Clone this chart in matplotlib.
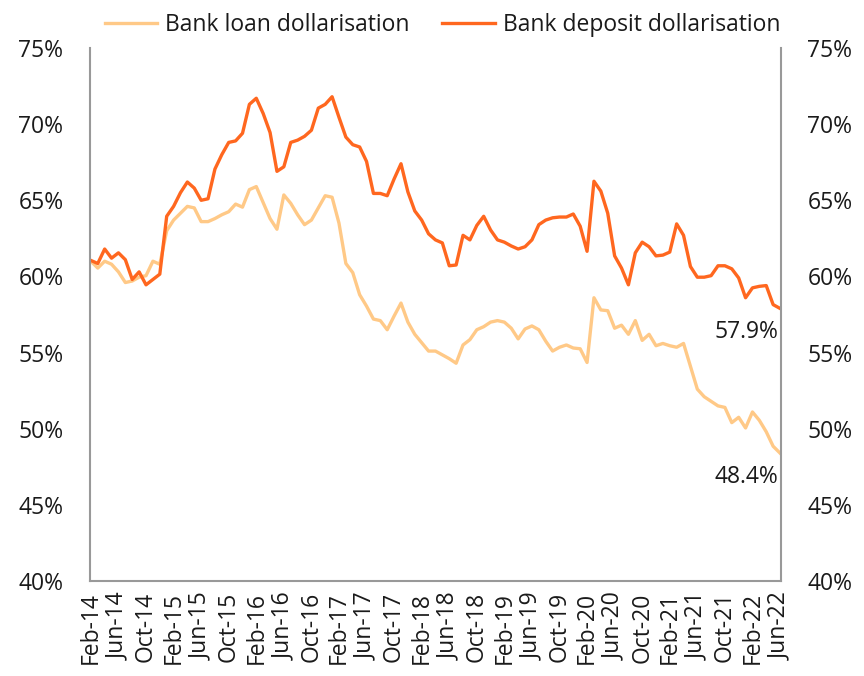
import matplotlib
matplotlib.use("Agg")
import matplotlib.pyplot as plt
import numpy as np

# Monthly data Feb-2014 .. Jun-2022 (101 months)
deposit = [61.05, 60.85, 61.8, 61.2, 61.55, 61.1, 59.8, 60.3, 59.45, 59.8,
           60.15, 63.95, 64.6, 65.5, 66.2, 65.8, 65.0, 65.1, 67.05, 68.0,
           68.8, 68.9, 69.4, 71.3, 71.7, 70.7, 69.45, 66.9, 67.2, 68.8,
           68.95, 69.2, 69.6, 71.05, 71.3, 71.8, 70.45, 69.15, 68.65, 68.5,
           67.55, 65.45, 65.45, 65.3, 66.4, 67.4, 65.55, 64.3, 63.7, 62.8,
           62.4, 62.2, 60.7, 60.75, 62.7, 62.4, 63.35, 63.95, 63.05, 62.4,
           62.25, 62.0, 61.8, 61.95, 62.4, 63.4, 63.7, 63.85, 63.9, 63.9,
           64.1, 63.3, 61.65, 66.25, 65.6, 64.15, 61.35, 60.55, 59.45, 61.55,
           62.25, 61.95, 61.35, 61.4, 61.6, 63.45, 62.7, 60.65, 59.95, 59.95,
           60.05, 60.7, 60.7, 60.5, 59.9, 58.6, 59.25, 59.35, 59.4, 58.15,
           57.9]

loan = [61.0, 60.55, 61.0, 60.8, 60.3, 59.6, 59.7, 59.95, 60.05, 61.0,
        60.8, 63.0, 63.7, 64.15, 64.6, 64.5, 63.6, 63.6, 63.8, 64.05,
        64.25, 64.75, 64.55, 65.7, 65.9, 64.85, 63.8, 63.1, 65.35, 64.8,
        64.05, 63.4, 63.7, 64.5, 65.3, 65.2, 63.5, 60.85, 60.25, 58.8,
        58.05, 57.2, 57.1, 56.5, 57.4, 58.25, 57.0, 56.2, 55.65, 55.1,
        55.1, 54.85, 54.6, 54.3, 55.5, 55.85, 56.5, 56.7, 57.0, 57.1,
        57.0, 56.6, 55.9, 56.55, 56.75, 56.5, 55.75, 55.1, 55.35, 55.5,
        55.3, 55.25, 54.35, 58.6, 57.8, 57.75, 56.6, 56.8, 56.2, 57.1,
        55.8, 56.2, 55.45, 55.6, 55.45, 55.35, 55.6, 54.1, 52.6, 52.1,
        51.8, 51.5, 51.4, 50.4, 50.75, 50.05, 51.1, 50.55, 49.8, 48.85,
        48.4]

tick_labels = ["Feb-14", "Jun-14", "Oct-14", "Feb-15", "Jun-15", "Oct-15",
               "Feb-16", "Jun-16", "Oct-16", "Feb-17", "Jun-17", "Oct-17",
               "Feb-18", "Jun-18", "Oct-18", "Feb-19", "Jun-19", "Oct-19",
               "Feb-20", "Jun-20", "Oct-20", "Feb-21", "Jun-21", "Oct-21",
               "Feb-22", "Jun-22"]

y_ticks = [40, 45, 50, 55, 60, 65, 70, 75]

plt.rcParams['font.family'] = ['Open Sans', 'DejaVu Sans']
FS = 16.5
TXT = '#1a1a1a'

fig = plt.figure(figsize=(8.64, 6.76), dpi=100)
ax = fig.add_axes([0.104, 0.1405, 0.800, 0.7885])

x = np.arange(len(deposit))
c_loan = '#FFC987'
c_dep = '#FF671F'
ax.plot(x, loan, color=c_loan, lw=2.4, label='Bank loan dollarisation', solid_joinstyle='round')
ax.plot(x, deposit, color=c_dep, lw=2.4, label='Bank deposit dollarisation', solid_joinstyle='round')

ax.set_xlim(-0.15, len(deposit) - 1 + 0.15)
ax.set_ylim(40, 75)
ax.set_yticks(y_ticks)
ax.set_yticklabels([f"{v}%" for v in y_ticks])
ax.tick_params(axis='y', length=0, labelsize=FS, pad=19, labelright=True, right=False, colors=TXT)
ax.set_xticks(np.arange(0, len(deposit), 4))
ax.set_xticklabels(tick_labels, rotation=90)
ax.tick_params(axis='x', length=0, labelsize=FS, pad=8, colors=TXT)

for s in ['left', 'right', 'bottom']:
    ax.spines[s].set_color('#999999')
    ax.spines[s].set_linewidth(1.5)
ax.spines['top'].set_visible(False)

ax.annotate(f"{deposit[-1]:.1f}%", xy=(x[-1], deposit[-1]), xytext=(-1, -17),
            textcoords='offset points', ha='right', va='center', fontsize=FS, color=TXT)
ax.annotate(f"{loan[-1]:.1f}%", xy=(x[-1], loan[-1]), xytext=(-1, -17),
            textcoords='offset points', ha='right', va='center', fontsize=FS, color=TXT)

leg = ax.legend(loc='lower center', bbox_to_anchor=(0.51, 1.0), ncol=2, frameon=False,
                fontsize=FS, handlelength=2.3, columnspacing=1.4, handletextpad=0.35,
                borderaxespad=0.1)
for t in leg.get_texts():
    t.set_color(TXT)

fig.savefig('out.png', dpi=100)
